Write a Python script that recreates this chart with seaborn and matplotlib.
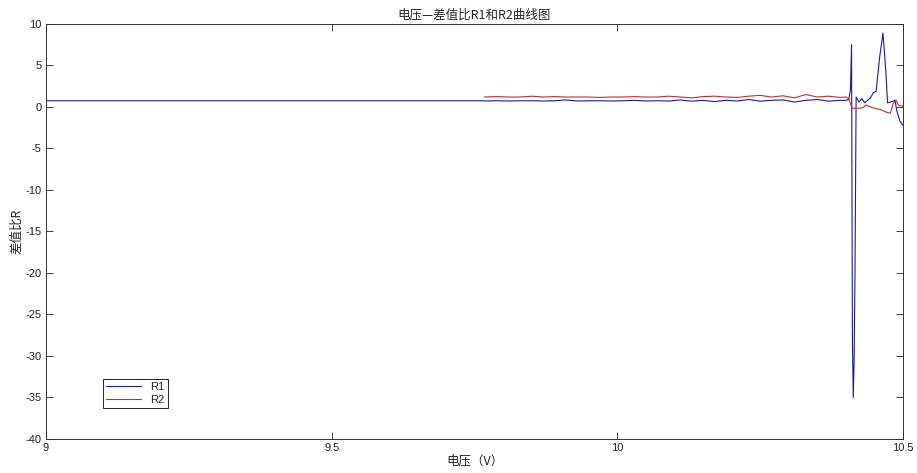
import matplotlib
matplotlib.use('Agg')
import matplotlib.pyplot as plt
import seaborn as sns
import pandas as pd

# voltage points (V)
v_r1 = [9.0, 9.767,
        9.77, 9.79, 9.81, 9.83, 9.85, 9.87, 9.89, 9.91, 9.93, 9.95, 9.97, 9.99,
        10.01, 10.03, 10.05, 10.07, 10.09, 10.11, 10.13, 10.15, 10.17, 10.19,
        10.21, 10.23, 10.25, 10.27, 10.29, 10.31, 10.33, 10.35, 10.37, 10.39,
        10.400, 10.405, 10.408, 10.410, 10.4115, 10.413, 10.4145, 10.416, 10.418,
        10.423, 10.428, 10.433, 10.438, 10.443, 10.448, 10.453, 10.459, 10.465,
        10.470, 10.473, 10.478, 10.483, 10.486, 10.489, 10.495, 10.5]
r1 = [0.75, 0.75,
      0.72, 0.75, 0.72, 0.75, 0.75, 0.72, 0.75, 0.85, 0.72, 0.75, 0.75, 0.72,
      0.75, 0.8, 0.72, 0.75, 0.72, 0.85, 0.7, 0.8, 0.65, 0.8, 0.72,
      0.9, 0.7, 0.8, 0.85, 0.6, 0.8, 0.9, 0.7, 0.8,
      0.8, 0.9, 2.0, 7.5, -28.0, -35.0, -30.5, -20.0, 1.2,
      0.6, 1.0, 0.5, 0.8, 1.1, 1.7, 1.9, 5.9, 8.9,
      4.3, 0.5, 0.6, 0.7, 0.85, -0.4, -1.8, -2.2]

v_r2 = [9.767, 9.79, 9.81, 9.83, 9.85, 9.87, 9.89, 9.91, 9.93, 9.95, 9.97, 9.99,
        10.01, 10.03, 10.05, 10.07, 10.09, 10.11, 10.13, 10.15, 10.17, 10.19,
        10.21, 10.23, 10.25, 10.27, 10.29, 10.31, 10.33, 10.35, 10.37, 10.39,
        10.400, 10.405, 10.408, 10.411, 10.42, 10.43, 10.435, 10.44, 10.45,
        10.46, 10.47, 10.478, 10.483, 10.488, 10.492, 10.5]
r2 = [1.2, 1.25, 1.2, 1.2, 1.3, 1.2, 1.25, 1.2, 1.2, 1.2, 1.15, 1.2,
      1.2, 1.25, 1.2, 1.2, 1.3, 1.2, 1.1, 1.25, 1.3, 1.2, 1.15,
      1.3, 1.4, 1.2, 1.35, 1.1, 1.5, 1.2, 1.3, 1.15,
      1.2, 1.0, 0.4, -0.15, -0.15, -0.1, 0.25, 0.1, -0.15,
      -0.3, -0.6, -0.75, 0.45, 0.8, 0.2, 0.1]

df1 = pd.DataFrame({'v': v_r1, 'r': r1})
df2 = pd.DataFrame({'v': v_r2, 'r': r2})

sns.set_style('ticks')
plt.rcParams['font.family'] = ['Liberation Sans', 'Noto Sans CJK SC', 'DejaVu Sans']
plt.rcParams['axes.unicode_minus'] = False

fig = plt.figure(figsize=(9.17, 4.73), dpi=100)
ax = fig.add_axes([0.0502, 0.0719, 0.9345, 0.8774])

sns.lineplot(data=df1, x='v', y='r', ax=ax, color='#1a1aa8', lw=0.8,
             label='R1', estimator=None, sort=False)
sns.lineplot(data=df2, x='v', y='r', ax=ax, color='#cc2a2a', lw=0.8,
             label='R2', estimator=None, sort=False)

ax.set_xlim(9, 10.5)
ax.set_ylim(-40, 10)
ax.set_xticks([9, 9.5, 10, 10.5])
ax.set_xticklabels(['9', '9.5', '10', '10.5'])
ax.set_yticks(range(-40, 11, 5))
ax.tick_params(direction='in', top=True, right=True, length=5, width=0.6,
               labelsize=8, pad=3, colors='#222222')
for s in ax.spines.values():
    s.set_visible(True)
    s.set_linewidth(0.7)
    s.set_color('#333333')

ax.set_title('电压—差值比R1和R2曲线图', fontsize=9, family=['Noto Sans CJK SC'], pad=4)
ax.set_xlabel('电压（V）', fontsize=9, family=['Noto Sans CJK SC'], labelpad=1)
ax.set_ylabel('差值比R', fontsize=9, family=['Noto Sans CJK SC'], labelpad=2)

leg = ax.legend(loc='lower left', bbox_to_anchor=(0.066, 0.075), fontsize=8,
                frameon=True, fancybox=False, framealpha=1, edgecolor='black',
                borderpad=0.3, handlelength=3.2, labelspacing=0.2,
                borderaxespad=0)
leg.get_frame().set_linewidth(0.6)

fig.savefig('out.png', dpi=100)
